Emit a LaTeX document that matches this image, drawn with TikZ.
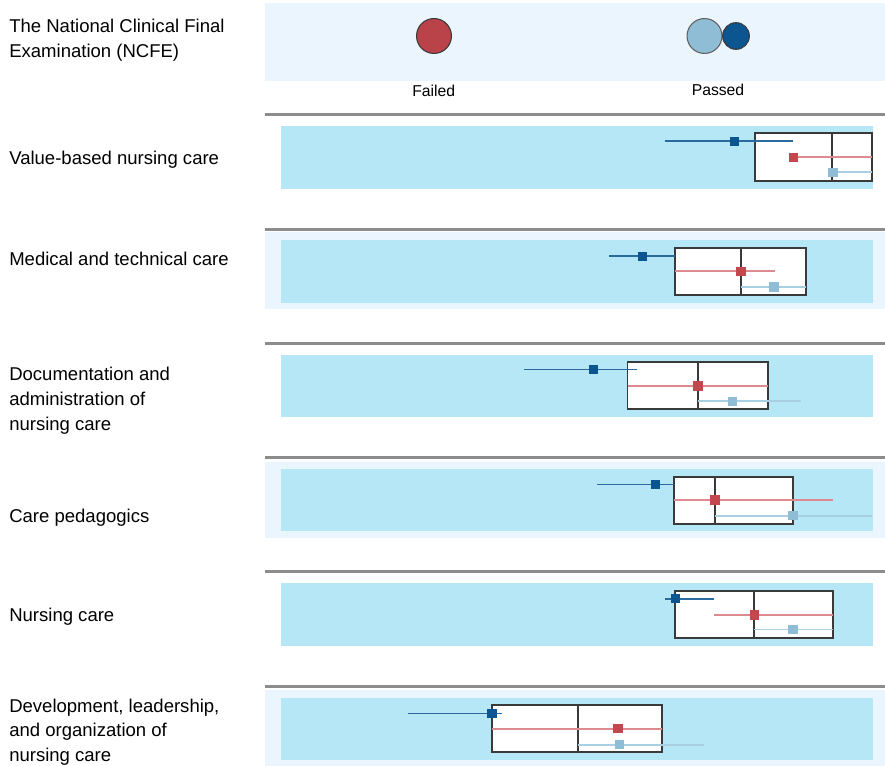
\documentclass[tikz,border=0pt]{standalone}
\usepackage{fontspec}
\setmainfont{Liberation Sans}
\definecolor{hdrbg}{HTML}{EBF5FD}
\definecolor{bandc}{HTML}{B5E7F7}
\definecolor{gridc}{HTML}{8C8C8C}
\definecolor{boxc}{HTML}{3A3A3A}
\definecolor{dkline}{HTML}{2A6A9E}
\definecolor{dkmark}{HTML}{0B5591}
\definecolor{rdline}{HTML}{DC8A90}
\definecolor{rdmark}{HTML}{C4474E}
\definecolor{ltline}{HTML}{A9D0E2}
\definecolor{ltmark}{HTML}{8FBDD6}
\tikzset{
  sep/.style={draw=gridc, line width=2.2pt},
  outerbg/.style={fill=hdrbg},
  band/.style={fill=bandc},
  statbox/.style={draw=boxc, fill=white, line width=1.3pt},
  medline/.style={draw=boxc, line width=1.3pt},
  dkw/.style={draw=dkline, line width=1.2pt},
  rdw/.style={draw=rdline, line width=1.4pt},
  ltw/.style={draw=ltline, line width=1.2pt},
  mk/.style={rectangle, minimum size=7pt, inner sep=0pt},
  dkm/.style={mk, fill=dkmark},
  rdm/.style={mk, fill=rdmark},
  ltm/.style={mk, fill=ltmark},
  lab/.style={anchor=base west, inner sep=0pt, font=\fontsize{13.9}{18.75}\selectfont},
  leg/.style={anchor=base, inner sep=0pt, font=\fontsize{11.8}{14}\selectfont},
}
% #1 band top, #2 band bottom, #3 box left, #4 box right, #5 box top, #6 box bottom, #7 median
\newcommand{\statrow}[7]{%
  \fill[band] (280.7,#1) rectangle (872.6,#2);
  \draw[statbox] (#3,#5) rectangle (#4,#6);
  \draw[medline] (#7,#5) -- (#7,#6);
}
\newcommand{\whisk}[6]{% style, marker style, y, x1, x2, xm
  \draw[#1] (#4,#3) -- (#5,#3);
  \node[#2] at (#6,#3) {};
}
\begin{document}
\begin{tikzpicture}[x=0.75pt,y=-0.75pt]
\useasboundingbox (0,0) rectangle (885,766);
% header
\fill[outerbg] (265,3.3) rectangle (885,81);
\node[draw=boxc, line width=0.8pt, fill=rdmark!95!black, circle, minimum size=26.2pt, inner sep=0pt] (failc) at (434,36) {};
\node[draw=boxc!80, line width=0.8pt, fill=ltmark, circle, minimum size=26.2pt, inner sep=0pt] (passl) at (704.5,36) {};
\node[draw=boxc, line width=0.8pt, fill=dkmark, circle, minimum size=20pt, inner sep=0pt] (passd) at (736,36) {};
\node[leg] (lfail) at (433.7,97) {Failed};
\node[leg] (lpass) at (718,95.7) {Passed};
\node[lab] (t1a) at (9,32.3) {The National Clinical Final};
\node[lab] (t1b) at (9,57.3) {Examination (NCFE)};
% outer light backgrounds for even rows
\fill[outerbg] (265,231.7) rectangle (885,309);
\fill[outerbg] (265,461.7) rectangle (885,538.3);
\fill[outerbg] (265,690) rectangle (885,766);
% separators
\foreach \yy in {114.7,229.7,343.3,457.3,571.7,686.7} \draw[sep] (265,\yy) -- (885,\yy);
% Row 1
\node[lab] (r1) at (9,165) {Value-based nursing care};
\statrow{125.7}{188.7}{755}{872}{132.7}{180.7}{832.3}
\whisk{dkw}{dkm}{141.3}{664.5}{792.5}{734.7}
\whisk{rdw}{rdm}{157.3}{793.7}{872}{793.7}
\whisk{ltw}{ltm}{172.3}{833}{872}{833}
% Row 2
\node[lab] (r2) at (9,266) {Medical and technical care};
\statrow{240}{302.7}{675}{806}{247.7}{295.3}{741}
\whisk{dkw}{dkm}{256.3}{609.3}{675}{642.7}
\whisk{rdw}{rdm}{271.3}{675}{775.3}{741}
\whisk{ltw}{ltm}{287}{741}{806}{774}
% Row 3
\node[lab] (r3a) at (9,380.7) {Documentation and};
\node[lab] (r3b) at (9,405.7) {administration of};
\node[lab] (r3c) at (9,430.2) {nursing care};
\statrow{355}{416.7}{627.5}{767.8}{361.7}{409}{698}
\whisk{dkw}{dkm}{369.7}{524.2}{637.4}{593.2}
\whisk{rdw}{rdm}{386}{627.5}{767.8}{698}
\whisk{ltw}{ltm}{401.3}{698}{801.2}{732.7}
% Row 4
\node[lab] (r4) at (9,522.3) {Care pedagogics};
\statrow{469}{531}{674}{793.3}{476.7}{524}{715.2}
\whisk{dkw}{dkm}{484.3}{597.2}{674}{655.8}
\whisk{rdw}{rdm}{500}{674}{832.7}{715}
\whisk{ltw}{ltm}{515.7}{715}{871.8}{792.9}
% Row 5
\node[lab] (r5) at (9,621.7) {Nursing care};
\statrow{583.3}{646}{675.3}{832.7}{590.7}{637.7}{754.2}
\whisk{dkw}{dkm}{598.7}{664.5}{714.4}{675.3}
\whisk{rdw}{rdm}{615}{714.4}{832.7}{754.2}
\whisk{ltw}{ltm}{629.3}{754.2}{832.7}{792.9}
% Row 6
\node[lab] (r6a) at (9,712.7) {Development, leadership,};
\node[lab] (r6b) at (9,736.7) {and organization of};
\node[lab] (r6c) at (9,761) {nursing care};
\statrow{698}{760}{492}{661.8}{705}{752.3}{577.7}
\whisk{dkw}{dkm}{713.3}{407.5}{502.3}{492}
\whisk{rdw}{rdm}{728.7}{492}{661.8}{617.9}
\whisk{ltw}{ltm}{744.7}{577.7}{703.6}{619.5}
\end{tikzpicture}
\end{document}
